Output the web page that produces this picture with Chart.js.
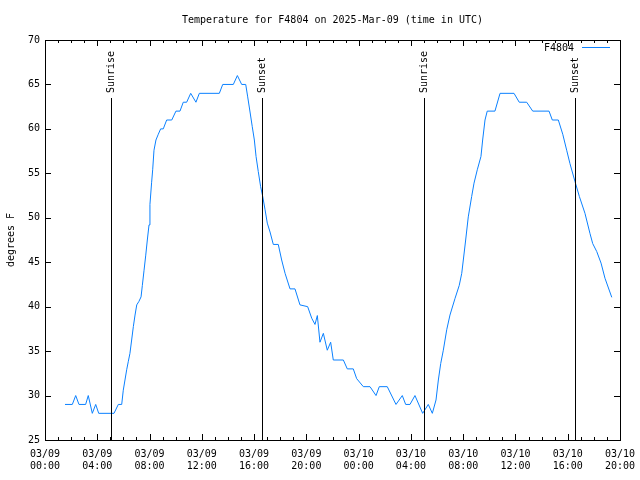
<!DOCTYPE html>
<html>
<head>
<meta charset="utf-8">
<script src="https://cdn.jsdelivr.net/npm/chart.js@4.4.1/dist/chart.umd.min.js"></script>
<style>
  html, body { margin: 0; padding: 0; background: #ffffff; }
  #wrap { width: 640px; height: 480px; }
</style>
</head>
<body>
<div id="wrap"><canvas id="c" width="640" height="480"></canvas></div>
<script>
// ---- data (hours since 03/09 00:00 UTC) ----
const times = [
  1.53, 2.09, 2.35, 2.60, 3.11, 3.31, 3.62, 3.88, 4.11, 5.28, 5.61, 5.87,
  5.99, 6.12, 6.25, 6.37, 6.50, 6.63, 6.76, 6.89, 7.02, 7.19, 7.35, 7.45,
  7.58, 7.71, 7.83, 7.96, 8.03, 8.16, 8.24, 8.34, 8.49, 8.67, 8.85, 9.05,
  9.31, 9.70, 10.02, 10.33, 10.58, 10.84, 11.15, 11.55, 11.81, 13.34, 13.60, 14.41,
  14.72, 15.05, 15.36, 15.51, 15.69, 15.86, 16.02, 16.15, 16.32, 16.50, 16.66, 16.84,
  17.01, 17.22, 17.47, 17.85, 18.11, 18.37, 18.75, 19.13, 19.51, 20.10, 20.41, 20.66,
  20.84, 21.04, 21.30, 21.60, 21.86, 22.06, 22.83, 23.13, 23.59, 23.85, 24.36, 24.87,
  25.33, 25.58, 26.19, 26.86, 27.34, 27.60, 27.93, 28.31, 28.90, 29.33, 29.64, 29.92,
  30.10, 30.28, 30.48, 30.74, 30.99, 31.37, 31.70, 31.89, 32.01, 32.19, 32.39, 32.65,
  32.83, 33.08, 33.36, 33.49, 33.67, 33.84, 34.43, 34.82, 35.89, 36.29, 36.86, 37.32,
  38.57, 38.82, 39.28, 39.62, 39.92, 40.17, 40.56, 40.89, 41.32, 41.70, 41.91, 42.22,
  42.55, 42.85, 43.37
];
const temps = [
  29, 29, 30, 29, 29, 30, 28, 29, 28, 28, 29, 29,
  30.6, 31.75, 32.9, 33.8, 34.75, 36.25, 37.75, 39.06, 40.2, 40.6, 41.1, 42.4,
  44.1, 45.8, 47.5, 49.2, 51.5, 54.0, 55.4, 57.6, 58.75, 59.4, 60, 60,
  61, 61, 62, 62, 63, 63, 64, 63, 64, 64, 65, 65,
  66, 65, 65, 63.6, 61.9, 60.25, 58.75, 56.9, 55.2, 53.5, 52.4, 50.9,
  49.4, 48.4, 47, 47, 45.25, 43.75, 42, 42, 40.2, 40, 38.7, 38,
  39, 36, 37, 35.1, 36, 34, 34, 33, 33, 31.9, 31, 31,
  30, 31, 31, 29, 30, 29, 29, 30, 28, 29, 28, 29.5,
  31.75, 33.6, 35.1, 37.4, 39.06, 40.9, 42.4, 43.75, 45.25, 47.5, 50.1, 52.4,
  53.9, 55.4, 56.9, 58.75, 61, 62, 62, 64, 64, 63, 63, 62,
  62, 61, 61, 59.4, 57.6, 56.1, 54.06, 52.4, 50.5, 48.25, 47.1, 46.2,
  44.9, 43.2, 41.05
];
const seriesName = 'F4804';
const eventTimes = [5.03, 16.58, 29.03, 40.56];
const eventLabels = ['Sunrise', 'Sunset', 'Sunrise', 'Sunset'];
const tickHours = [0, 4, 8, 12, 16, 20, 24, 28, 32, 36, 40, 44];
const tickDates = ['03/09', '03/09', '03/09', '03/09', '03/09', '03/09', '03/10', '03/10', '03/10', '03/10', '03/10', '03/10'];
const tickTimes = ['00:00', '04:00', '08:00', '12:00', '16:00', '20:00', '00:00', '04:00', '08:00', '12:00', '16:00', '20:00'];
const yTicks = [25, 30, 35, 40, 45, 50, 55, 60, 65, 70];

const FONT = "'DejaVu Sans Mono', 'Liberation Mono', monospace";
const LINE_COLOR = '#0a80ff';

Chart.defaults.font.family = FONT;
Chart.defaults.font.size = 10;
Chart.defaults.color = '#000000';

const decor = {
  id: 'decor',
  afterDatasetsDraw(chart) {
    const ctx = chart.ctx;
    const a = chart.chartArea;
    const xs = chart.scales.x, ys = chart.scales.y;
    const L = Math.round(a.left), R = Math.round(a.right), T = Math.round(a.top), B = Math.round(a.bottom);
    ctx.save();
    ctx.strokeStyle = '#000000';
    ctx.lineWidth = 1;
    // sunrise / sunset lines and labels
    ctx.font = '10px ' + FONT;
    ctx.fillStyle = '#000000';
    eventTimes.forEach((t, i) => {
      const px = Math.round(xs.getPixelForValue(t)) + 0.5;
      ctx.beginPath();
      ctx.moveTo(px, 98);
      ctx.lineTo(px, B);
      ctx.stroke();
      ctx.save();
      ctx.translate(px, 93);
      ctx.rotate(-Math.PI / 2);
      ctx.textAlign = 'left';
      ctx.textBaseline = 'middle';
      ctx.fillText(eventLabels[i], 0, 0);
      ctx.restore();
    });
    // border
    ctx.strokeRect(L + 0.5, T + 0.5, R - L, B - T);
    // x ticks (major every 4h, minor every hour), bottom and top, inward
    ctx.beginPath();
    for (let h = xs.min; h <= xs.max; h += 1) {
      const px = Math.round(xs.getPixelForValue(h)) + 0.5;
      const len = (h % 4 === 0) ? 6 : 3;
      ctx.moveTo(px, B); ctx.lineTo(px, B - len);
      ctx.moveTo(px, T); ctx.lineTo(px, T + len);
    }
    // y ticks left and right, inward
    yTicks.forEach(v => {
      const py = Math.round(ys.getPixelForValue(v)) + 0.5;
      ctx.moveTo(L, py); ctx.lineTo(L + 6, py);
      ctx.moveTo(R, py); ctx.lineTo(R - 6, py);
    });
    ctx.stroke();
    // legend
    ctx.font = '10px ' + FONT;
    ctx.textAlign = 'right';
    ctx.textBaseline = 'middle';
    ctx.fillText(seriesName, 574, 48);
    ctx.strokeStyle = LINE_COLOR;
    ctx.beginPath();
    ctx.moveTo(582, 47.5);
    ctx.lineTo(610, 47.5);
    ctx.stroke();
    ctx.restore();
  }
};

new Chart(document.getElementById('c'), {
  type: 'line',
  data: {
    datasets: [{
      label: seriesName,
      data: times.map((t, i) => ({ x: t, y: temps[i] })),
      borderColor: LINE_COLOR,
      backgroundColor: LINE_COLOR,
      borderWidth: 1,
      pointRadius: 0,
      tension: 0,
      fill: false
    }]
  },
  options: {
    responsive: false,
    devicePixelRatio: 1,
    animation: false,
    layout: { padding: { left: 0, right: 20, top: 0, bottom: 0 } },
    plugins: {
      legend: { display: false },
      tooltip: { enabled: false },
      title: {
        display: true,
        text: 'Temperature for F4804 on 2025-Mar-09 (time in UTC)',
        fullSize: false,
        font: { size: 10, weight: 'normal', family: FONT },
        color: '#000000',
        padding: { top: 14, bottom: 14 }
      }
    },
    scales: {
      x: {
        type: 'linear',
        min: 0,
        max: 44,
        grid: { display: false, drawTicks: false },
        border: { display: false },
        afterBuildTicks(scale) { scale.ticks = tickHours.map(v => ({ value: v })); },
        afterFit(scale) {
          scale.height = 40;
          scale.paddingLeft = 0;
          scale.paddingRight = 0;
        },
        ticks: {
          autoSkip: false,
          maxRotation: 0,
          minRotation: 0,
          padding: 8,
          font: { size: 10, family: FONT, lineHeight: 1.2 },
          callback(value) {
            const i = tickHours.indexOf(value);
            return i >= 0 ? [tickDates[i], tickTimes[i]] : '';
          }
        }
      },
      y: {
        min: 25,
        max: 70,
        grid: { display: false, drawTicks: false },
        border: { display: false },
        afterBuildTicks(scale) { scale.ticks = yTicks.map(v => ({ value: v })); },
        afterFit(scale) {
          scale.width = 45;
          scale.paddingTop = 0;
          scale.paddingBottom = 0;
        },
        ticks: { padding: 5, font: { size: 10, family: FONT } },
        title: {
          display: true,
          text: 'degrees F',
          font: { size: 10, family: FONT },
          padding: { top: 5, bottom: 0 }
        }
      }
    }
  },
  plugins: [decor]
});
</script>
</body>
</html>
